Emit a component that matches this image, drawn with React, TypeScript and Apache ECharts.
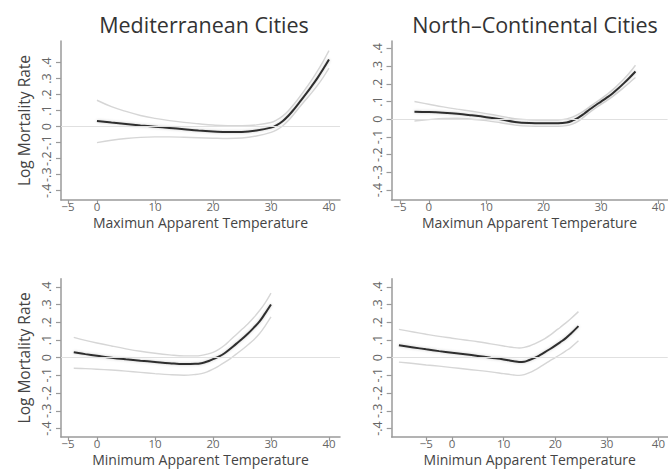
import React, { useEffect, useRef } from "react";
import * as echarts from "echarts";

// ---------- data ----------
const titles = ["Mediterranean Cities", "North\u2013Continental Cities"];
const xTitles = [
  "Maximun Apparent Temperature",
  "Maximun Apparent Temperature",
  "Minimum Apparent Temperature",
  "Minimun Apparent Temperature",
];
const yTitle = "Log Mortality Rate";
const xTickValues = [-5, 0, 10, 20, 30, 40];
const yTickValues = [-0.4, -0.3, -0.2, -0.1, 0, 0.1, 0.2, 0.3, 0.4];

// Panel 1: Mediterranean, maximum apparent temperature
const medMaxX = [0, 2.5, 5, 7.5, 10, 12.5, 15, 17.5, 20, 22.5, 25, 27.5, 30, 31, 32, 33, 34, 35, 36, 37, 38, 39, 40];
const medMaxFit = [0.036, 0.026, 0.017, 0.008, 0.0, -0.008, -0.016, -0.024, -0.03, -0.034, -0.033, -0.024, -0.006, 0.01, 0.034, 0.068, 0.11, 0.156, 0.203, 0.252, 0.303, 0.36, 0.42];
const medMaxUp = [0.165, 0.125, 0.095, 0.07, 0.052, 0.038, 0.027, 0.018, 0.01, 0.006, 0.006, 0.011, 0.026, 0.042, 0.066, 0.1, 0.142, 0.189, 0.239, 0.291, 0.347, 0.408, 0.475];
const medMaxLo = [-0.1, -0.085, -0.074, -0.067, -0.064, -0.064, -0.066, -0.069, -0.072, -0.074, -0.071, -0.058, -0.036, -0.02, 0.004, 0.038, 0.08, 0.125, 0.168, 0.211, 0.257, 0.308, 0.365];

// Panel 2: North-Continental, maximum apparent temperature
const ncMaxX = [-2.5, 0, 2.5, 5, 7.5, 10, 12.5, 15, 17.5, 20, 22.5, 24, 25, 26, 27, 28, 29, 30, 31, 32, 33, 34, 35, 36];
const ncMaxFit = [0.043, 0.041, 0.037, 0.031, 0.022, 0.012, 0.0, -0.015, -0.021, -0.022, -0.022, -0.018, -0.008, 0.008, 0.03, 0.055, 0.078, 0.1, 0.122, 0.146, 0.174, 0.204, 0.236, 0.27];
const ncMaxUp = [0.1, 0.085, 0.07, 0.057, 0.045, 0.032, 0.018, 0.003, -0.003, -0.005, -0.004, 0.002, 0.012, 0.027, 0.047, 0.07, 0.093, 0.115, 0.14, 0.166, 0.196, 0.228, 0.264, 0.305];
const ncMaxLo = [-0.01, -0.002, 0.005, 0.006, 0.0, -0.008, -0.02, -0.033, -0.039, -0.04, -0.04, -0.036, -0.027, -0.012, 0.012, 0.038, 0.062, 0.084, 0.105, 0.128, 0.153, 0.18, 0.208, 0.236];

// Panel 3: Mediterranean, minimum apparent temperature
const medMinX = [-4, -2, 0, 2.5, 5, 7.5, 10, 12.5, 15, 17, 18, 19, 20, 21, 22, 23, 24, 25, 26, 27, 28, 29, 30];
const medMinFit = [0.03, 0.02, 0.011, 0.0, -0.009, -0.017, -0.024, -0.031, -0.036, -0.035, -0.031, -0.022, -0.008, 0.006, 0.025, 0.05, 0.078, 0.105, 0.135, 0.168, 0.203, 0.25, 0.3];
const medMinUp = [0.115, 0.098, 0.083, 0.066, 0.05, 0.036, 0.025, 0.016, 0.01, 0.01, 0.013, 0.02, 0.03, 0.047, 0.07, 0.1, 0.13, 0.16, 0.19, 0.225, 0.265, 0.31, 0.365];
const medMinLo = [-0.06, -0.062, -0.065, -0.07, -0.076, -0.083, -0.09, -0.096, -0.099, -0.095, -0.09, -0.08, -0.065, -0.047, -0.027, -0.005, 0.02, 0.045, 0.072, 0.1, 0.135, 0.18, 0.23];

// Panel 4: North-Continental, minimum apparent temperature
const ncMinX = [-10.3, -7.5, -5, -2.5, 0, 2.5, 5, 7.5, 10, 11, 12, 13, 14, 15, 16, 17, 18, 19, 20, 21, 22, 23, 24.5];
const ncMinFit = [0.07, 0.058, 0.047, 0.037, 0.028, 0.019, 0.01, 0.0, -0.01, -0.015, -0.02, -0.024, -0.023, -0.013, -0.001, 0.014, 0.031, 0.049, 0.068, 0.088, 0.109, 0.135, 0.178];
const ncMinUp = [0.16, 0.145, 0.132, 0.12, 0.11, 0.1, 0.09, 0.078, 0.066, 0.061, 0.057, 0.055, 0.058, 0.066, 0.078, 0.092, 0.108, 0.127, 0.15, 0.172, 0.195, 0.22, 0.26];
const ncMinLo = [-0.025, -0.033, -0.041, -0.048, -0.056, -0.064, -0.072, -0.08, -0.09, -0.094, -0.098, -0.1, -0.096, -0.085, -0.07, -0.053, -0.035, -0.017, 0.0, 0.018, 0.037, 0.057, 0.095];

const panels = [
  { x: medMaxX, fit: medMaxFit, up: medMaxUp, lo: medMaxLo },
  { x: ncMaxX, fit: ncMaxFit, up: ncMaxUp, lo: ncMaxLo },
  { x: medMinX, fit: medMinFit, up: medMinUp, lo: medMinLo },
  { x: ncMinX, fit: ncMinFit, up: ncMinUp, lo: ncMinLo },
];

// ---------- layout ----------
const grids = [
  { left: 61, top: 41, width: 279, height: 159 },
  { left: 391.5, top: 41, width: 276.5, height: 159 },
  { left: 61, top: 278.7, width: 279, height: 158.3 },
  { left: 391.7, top: 278.7, width: 276.3, height: 158.3 },
];
const xRanges = [
  [-6.2, 41.9],
  [-6.5, 41.6],
  [-6.2, 41.9],
  [-11.7, 41.8],
];
const yRanges = [
  [-0.458, 0.535],
  [-0.456, 0.442],
  [-0.448, 0.446],
  [-0.448, 0.446],
];

const FONT = "'Open Sans', 'DejaVu Sans', sans-serif";
const AXIS_COLOR = "#9a9a9a";

const fmtX = (v: number) => (v < 0 ? "\u2212" + Math.abs(v) : String(v));
const fmtY = (v: number) => {
  const n = Math.round(Math.abs(v) * 10);
  if (n === 0) return "0";
  return (v < 0 ? "-" : "") + "." + n;
};

export default function App() {
  const ref = useRef<HTMLDivElement>(null);
  useEffect(() => {
    if (!ref.current) return;
    const chart = echarts.init(ref.current, undefined, { renderer: "svg" });

    const xAxis = panels.map((_, i) => ({
      type: "value" as const,
      gridIndex: i,
      min: xRanges[i][0],
      max: xRanges[i][1],
      name: xTitles[i],
      nameLocation: "middle" as const,
      nameGap: 22.5,
      nameMoveOverlap: false,
      nameTextStyle: { fontFamily: FONT, fontSize: 14, color: "#444", verticalAlign: "middle" as const },
      axisLine: { onZero: false, lineStyle: { color: AXIS_COLOR, width: 1.5 } },
      axisTick: { customValues: xTickValues, length: 4, lineStyle: { color: AXIS_COLOR, width: 1.2 } },
      axisLabel: {
        customValues: xTickValues,
        formatter: fmtX,
        margin: 0.5,
        showMinLabel: true,
        showMaxLabel: true,
        hideOverlap: false,
        fontFamily: FONT,
        fontSize: 11.5,
        color: "#666",
      },
      splitLine: { show: false },
    }));

    const yAxis = panels.map((_, i) => ({
      type: "value" as const,
      gridIndex: i,
      min: yRanges[i][0],
      max: yRanges[i][1],
      name: i % 2 === 0 ? yTitle : "",
      nameLocation: "middle" as const,
      nameGap: 37,
      nameMoveOverlap: false,
      nameTextStyle: { fontFamily: FONT, fontSize: 15.5, color: "#444", verticalAlign: "middle" as const },
      axisLine: { onZero: false, lineStyle: { color: AXIS_COLOR, width: 1.5 } },
      axisTick: { customValues: yTickValues, length: 5, lineStyle: { color: AXIS_COLOR, width: 1.2 } },
      axisLabel: {
        customValues: yTickValues,
        formatter: fmtY,
        rotate: 90,
        margin: 8,
        showMinLabel: true,
        showMaxLabel: true,
        hideOverlap: false,
        fontFamily: FONT,
        fontSize: 12.5,
        color: "#666",
      },
      splitLine: { show: false },
    }));

    const series: any[] = [];
    panels.forEach((p, i) => {
      const mk = (vals: number[]) => p.x.map((x, k) => [x, vals[k]]);
      series.push({
        type: "line",
        xAxisIndex: i,
        yAxisIndex: i,
        data: mk(p.up),
        smooth: 0.4,
        showSymbol: false,
        lineStyle: { color: "#d6d6d6", width: 1.4 },
        z: 2,
        markLine: {
          silent: true,
          symbol: "none",
          label: { show: false },
          lineStyle: { color: "#e0e0e0", width: 1, type: "solid" },
          data: [{ yAxis: 0 }],
        },
      });
      series.push({
        type: "line",
        xAxisIndex: i,
        yAxisIndex: i,
        data: mk(p.lo),
        smooth: 0.4,
        showSymbol: false,
        lineStyle: { color: "#d6d6d6", width: 1.4 },
        z: 2,
      });
      series.push({
        type: "line",
        xAxisIndex: i,
        yAxisIndex: i,
        data: mk(p.fit),
        smooth: 0.4,
        showSymbol: false,
        lineStyle: { color: "#2e2e2e", width: 2, shadowColor: "rgba(0,0,0,0.2)", shadowBlur: 3 },
        z: 3,
      });
    });

    chart.setOption({
      animation: false,
      backgroundColor: "#fff",
      title: [
        {
          text: titles[0],
          left: 199,
          top: 8,
          textAlign: "center",
          textStyle: { fontFamily: FONT, fontSize: 21.5, fontWeight: "normal", color: "#333" },
        },
        {
          text: titles[1],
          left: 530,
          top: 8,
          textAlign: "center",
          textStyle: { fontFamily: FONT, fontSize: 21.5, fontWeight: "normal", color: "#333" },
        },
      ],
      grid: grids,
      xAxis,
      yAxis,
      series,
    });
    return () => chart.dispose();
  }, []);
  return <div ref={ref} style={{ width: 668, height: 472, position: "absolute", left: 0, top: 0 }} />;
}
